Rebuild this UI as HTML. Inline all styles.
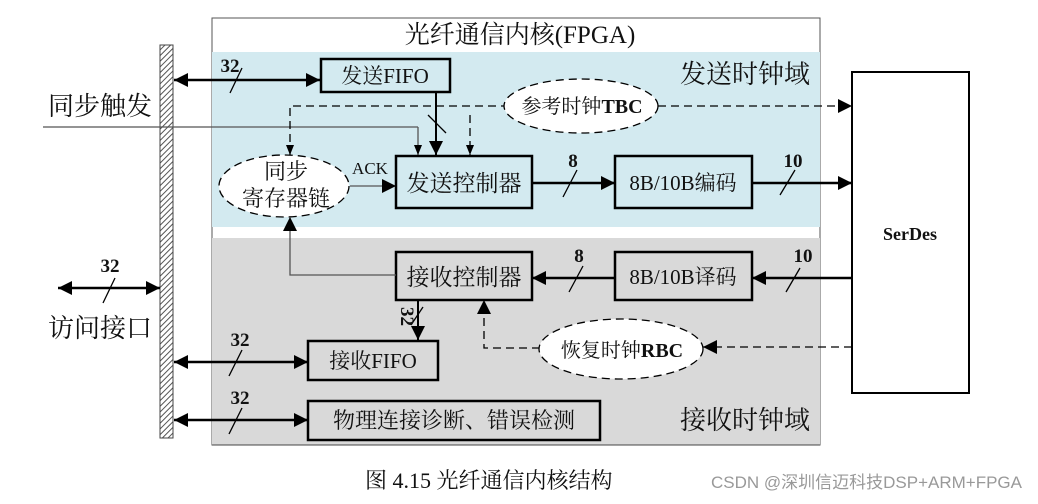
<!DOCTYPE html>
<html><head><meta charset="utf-8"><style>
html,body{margin:0;padding:0;background:#fff;}
svg text{font-family:"Liberation Serif","Noto Serif CJK SC",serif;fill:#111;}
.b{font-weight:bold;}
</style></head><body>
<svg width="1038" height="499" viewBox="0 0 1038 499" xmlns="http://www.w3.org/2000/svg">
<defs>
<marker id="a" viewBox="0 0 10 10" refX="10" refY="5" markerWidth="10" markerHeight="10" orient="auto-start-reverse" markerUnits="userSpaceOnUse"><path d="M0,1 L10,5 L0,9 z" fill="#000"/></marker>
<marker id="A" viewBox="0 0 10 10" refX="10" refY="5" markerWidth="17" markerHeight="14" orient="auto-start-reverse" markerUnits="userSpaceOnUse"><path d="M0,0 L10,5 L0,10 z" fill="#000"/></marker>
<pattern id="h" width="4" height="4" patternUnits="userSpaceOnUse" patternTransform="rotate(45)"><rect width="4" height="4" fill="#fff"/><line x1="0" y1="0" x2="0" y2="4" stroke="#555" stroke-width="2"/></pattern>
</defs>
<rect x="212" y="18" width="608" height="427" fill="#fff" stroke="#555" stroke-width="1"/>
<rect x="212" y="52" width="608" height="175" fill="#d3eaf0"/>
<rect x="212" y="238" width="608" height="207" fill="#d9d9d9"/>
<line x1="212" y1="445" x2="820" y2="445" stroke="#444"/>
<text x="520" y="43" font-size="25" text-anchor="middle">光纤通信内核(FPGA)</text>
<text x="810" y="83" font-size="26" text-anchor="end">发送时钟域</text>
<text x="810" y="429" font-size="26" text-anchor="end">接收时钟域</text>
<rect x="160" y="45" width="13" height="393" fill="url(#h)" stroke="#444" stroke-width="1"/>
<rect x="852" y="72" width="117" height="321" fill="#fff" stroke="#000" stroke-width="2"/>
<text x="910" y="240" font-size="18" text-anchor="middle" class="b">SerDes</text>
<text x="48" y="115" font-size="26">同步触发</text>
<text x="48" y="337" font-size="26">访问接口</text>
<line x1="43" y1="127" x2="418" y2="127" stroke="#555" stroke-width="1.3"/>
<line x1="418" y1="127" x2="418" y2="155" stroke="#555" stroke-width="1.3" marker-end="url(#a)"/>
<line x1="58" y1="288" x2="160" y2="288" stroke="#000" stroke-width="2.5" marker-start="url(#A)" marker-end="url(#A)"/>
<line x1="103" y1="303" x2="115" y2="278" stroke="#000" stroke-width="1.3"/>
<text x="110" y="272" font-size="19" text-anchor="middle" class="b">32</text>
<line x1="174" y1="80" x2="320" y2="80" stroke="#000" stroke-width="2.5" marker-start="url(#A)" marker-end="url(#A)"/>
<line x1="230" y1="93" x2="242" y2="68" stroke="#000" stroke-width="1.3"/>
<text x="230" y="72" font-size="19" text-anchor="middle" class="b">32</text>
<rect x="321" y="59" width="129" height="33" fill="#d3eaf0" stroke="#000" stroke-width="2.5"/>
<text x="385" y="83" font-size="21" text-anchor="middle">发送FIFO</text>
<line x1="436" y1="92" x2="436" y2="155" stroke="#000" stroke-width="2" marker-end="url(#A)"/>
<line x1="428" y1="115" x2="446" y2="133" stroke="#000" stroke-width="1.3"/>
<path d="M290,155 L290,106 L505,106" fill="none" stroke="#000" stroke-width="1.3" stroke-dasharray="8,5" marker-start="url(#a)"/>
<line x1="470" y1="115" x2="470" y2="155" stroke="#000" stroke-width="1.3" stroke-dasharray="8,5" marker-end="url(#a)"/>
<line x1="658" y1="106" x2="852" y2="106" stroke="#000" stroke-width="1.3" stroke-dasharray="8,5" marker-end="url(#A)"/>
<ellipse cx="581" cy="106" rx="77" ry="27" fill="#fff" stroke="#000" stroke-width="1.3" stroke-dasharray="8,5"/>
<text x="582" y="113" font-size="20" text-anchor="middle">参考时钟<tspan class="b">TBC</tspan></text>
<ellipse cx="284" cy="186" rx="65" ry="31" fill="#fff" stroke="#000" stroke-width="1.3" stroke-dasharray="8,5"/>
<text x="286" y="179" font-size="22" text-anchor="middle">同步</text>
<text x="286" y="206" font-size="22" text-anchor="middle">寄存器链</text>
<text x="370" y="174" font-size="17" text-anchor="middle">ACK</text>
<line x1="350" y1="186" x2="396" y2="186" stroke="#555" stroke-width="1.3" marker-end="url(#A)"/>
<rect x="396" y="156" width="136" height="52" fill="#d3eaf0" stroke="#000" stroke-width="2.5"/>
<text x="464" y="191" font-size="23" text-anchor="middle">发送控制器</text>
<line x1="532" y1="183" x2="615" y2="183" stroke="#000" stroke-width="2.5" marker-end="url(#A)"/>
<line x1="563" y1="197" x2="577" y2="170" stroke="#000" stroke-width="1.3"/>
<text x="573" y="167" font-size="19" text-anchor="middle" class="b">8</text>
<rect x="615" y="156" width="137" height="52" fill="#d3eaf0" stroke="#000" stroke-width="2.5"/>
<text x="683" y="190" font-size="21" text-anchor="middle">8B/10B编码</text>
<line x1="752" y1="183" x2="852" y2="183" stroke="#000" stroke-width="2.5" marker-end="url(#A)"/>
<line x1="780" y1="195" x2="795" y2="170" stroke="#000" stroke-width="1.3"/>
<text x="793" y="167" font-size="19" text-anchor="middle" class="b">10</text>
<rect x="396" y="252" width="136" height="48" fill="#d9d9d9" stroke="#000" stroke-width="2.5"/>
<text x="464" y="285" font-size="23" text-anchor="middle">接收控制器</text>
<rect x="615" y="252" width="137" height="48" fill="#d9d9d9" stroke="#000" stroke-width="2.5"/>
<text x="683" y="284" font-size="21" text-anchor="middle">8B/10B译码</text>
<line x1="852" y1="278" x2="752" y2="278" stroke="#000" stroke-width="2.5" marker-end="url(#A)"/>
<line x1="786" y1="292" x2="800" y2="268" stroke="#000" stroke-width="1.3"/>
<text x="803" y="262" font-size="19" text-anchor="middle" class="b">10</text>
<line x1="615" y1="278" x2="532" y2="278" stroke="#000" stroke-width="2.5" marker-end="url(#A)"/>
<line x1="569" y1="292" x2="583" y2="266" stroke="#000" stroke-width="1.3"/>
<text x="579" y="262" font-size="19" text-anchor="middle" class="b">8</text>
<path d="M396,275 L290,275 L290,217" fill="none" stroke="#555" stroke-width="1.3" marker-end="url(#A)"/>
<line x1="418" y1="300" x2="418" y2="340" stroke="#000" stroke-width="2" marker-end="url(#A)"/>
<line x1="411" y1="325" x2="423" y2="307" stroke="#000" stroke-width="1.3"/>
<text x="0" y="0" font-size="19" class="b" transform="translate(401,307) rotate(90)">32</text>
<rect x="308" y="341" width="130" height="39" fill="#d9d9d9" stroke="#000" stroke-width="2.5"/>
<text x="373" y="368" font-size="21" text-anchor="middle">接收FIFO</text>
<path d="M540,348 L484,348 L484,300" fill="none" stroke="#000" stroke-width="1.3" stroke-dasharray="8,5" marker-end="url(#A)"/>
<line x1="852" y1="347" x2="703" y2="347" stroke="#000" stroke-width="1.3" stroke-dasharray="8,5" marker-end="url(#A)"/>
<ellipse cx="621" cy="349" rx="82" ry="30" fill="#fff" stroke="#000" stroke-width="1.3" stroke-dasharray="8,5"/>
<text x="622" y="357" font-size="20" text-anchor="middle">恢复时钟<tspan class="b">RBC</tspan></text>
<line x1="174" y1="362" x2="308" y2="362" stroke="#000" stroke-width="2.5" marker-start="url(#A)" marker-end="url(#A)"/>
<line x1="229" y1="376" x2="242" y2="350" stroke="#000" stroke-width="1.3"/>
<text x="240" y="346" font-size="19" text-anchor="middle" class="b">32</text>
<line x1="174" y1="420" x2="308" y2="420" stroke="#000" stroke-width="2.5" marker-start="url(#A)" marker-end="url(#A)"/>
<line x1="229" y1="434" x2="242" y2="408" stroke="#000" stroke-width="1.3"/>
<text x="240" y="404" font-size="19" text-anchor="middle" class="b">32</text>
<rect x="308" y="401" width="292" height="39" fill="#d9d9d9" stroke="#000" stroke-width="2.5"/>
<text x="454" y="428" font-size="22" text-anchor="middle">物理连接诊断、错误检测</text>
<text x="365" y="488" font-size="22">图 4.15  光纤通信内核结构</text>
<text x="1022" y="488" font-size="17" text-anchor="end" style="font-family:'Liberation Sans','Noto Sans CJK SC',sans-serif;fill:#999">CSDN @深圳信迈科技DSP+ARM+FPGA</text>
</svg>
</body></html>
